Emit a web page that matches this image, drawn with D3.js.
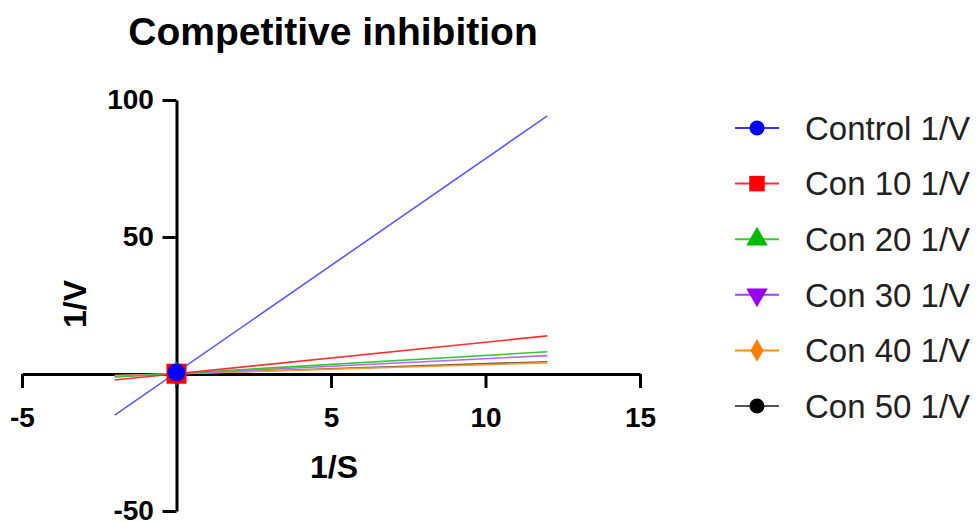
<!DOCTYPE html>
<html>
<head>
<meta charset="utf-8">
<script src="https://cdn.jsdelivr.net/npm/d3@7"></script>
<style>
  body { margin: 0; background: white; font-family: "Liberation Sans", Arial, sans-serif; }
  .axis path, .axis line { stroke: black; stroke-width: 3px; }
  .axis text { font-size: 28px; font-weight: bold; fill: black; font-family: "Liberation Sans", Arial, sans-serif; }
</style>
</head>
<body>
<svg id="chart" width="976" height="522"></svg>
<script>
// series names and fitted lines (1/V = slope * 1/S + intercept)
var names = ["Control 1/V", "Con 10 1/V", "Con 20 1/V", "Con 30 1/V", "Con 40 1/V", "Con 50 1/V"];
var slopes = [7.8, 1.15, 0.66, 0.55, 0.33, 0.37];
var intercepts = [0.6, 0.1, 0.2, 0.1, 0.1, 0.05];
var lineColors = ["#5a5aff", "#ff3030", "#33c833", "#b566ff", "#ff9933", "#7a5a3a"];
var markColors = ["#0000ff", "#ff0000", "#00bb00", "#9900ee", "#ff8000", "#000000"];
var legendLineColors = ["#3333ff", "#ff3333", "#33cc33", "#a640ff", "#ff8c1a", "#555555"];
var symbols = [d3.symbolCircle, d3.symbolSquare, d3.symbolTriangle, "tri-down", d3.symbolDiamond, d3.symbolCircle];
// measured points sit at the origin region
var pointX = [0, 0, 0, 0, 0, 0];
var fitRange = [-2, 12];

var xTicks = [-5, 5, 10, 15];
var yTicks = [-50, 50, 100];

var svg = d3.select("#chart");
var x = d3.scaleLinear().domain([-5, 15]).range([22, 640]);
var y = d3.scaleLinear().domain([-50, 100]).range([511, 100]);

function symPath(s, size) {
  if (s === "tri-down") {
    return d3.symbol().type(d3.symbolTriangle).size(size)();
  }
  return d3.symbol().type(s).size(size)();
}

// title
svg.append("text").attr("x", 333).attr("y", 45).attr("text-anchor", "middle")
  .style("font-size", "39px").style("font-weight", "bold").text("Competitive inhibition");

// axes
var xAxis = svg.append("g").attr("class", "axis").attr("transform", "translate(0," + y(0) + ")")
  .call(d3.axisBottom(x).tickValues([-5, 0, 5, 10, 15]).tickSize(14).tickSizeOuter(0)
    .tickFormat(d => xTicks.indexOf(d) >= 0 ? d : ""));
xAxis.selectAll("text").attr("y", 33);
var yAxis = svg.append("g").attr("class", "axis").attr("transform", "translate(" + x(0) + ",0)")
  .call(d3.axisLeft(y).tickValues([-50, 0, 50, 100]).tickSize(14).tickSizeOuter(0)
    .tickFormat(d => yTicks.indexOf(d) >= 0 ? d : ""));
yAxis.selectAll(".tick").filter(d => d === 0).select("line").remove();
yAxis.selectAll("text").attr("dx", "-0.2em");

svg.append("text").attr("x", 334).attr("y", 478).attr("text-anchor", "middle")
  .style("font-size", "32px").style("font-weight", "bold").text("1/S");
svg.append("text").attr("transform", "translate(86,304) rotate(-90)").attr("text-anchor", "middle")
  .style("font-size", "32px").style("font-weight", "bold").text("1/V");

// fit lines, drawn so Control is on top
var order = d3.range(names.length).reverse();
var lines = svg.append("g");
order.forEach(function (i) {
  lines.append("line")
    .attr("x1", x(fitRange[0])).attr("y1", y(slopes[i] * fitRange[0] + intercepts[i]))
    .attr("x2", x(fitRange[1])).attr("y2", y(slopes[i] * fitRange[1] + intercepts[i]))
    .attr("stroke", lineColors[i]).attr("stroke-width", 1.6);
});

// markers
var marks = svg.append("g");
var markSize = [254, 400, 180, 180, 160, 200];
order.forEach(function (i) {
  var px = pointX[i], py = slopes[i] * px + intercepts[i];
  marks.append("path")
    .attr("d", symPath(symbols[i], markSize[i]))
    .attr("transform", "translate(" + x(px) + "," + y(py) + ")" + (symbols[i] === "tri-down" ? " rotate(180)" : ""))
    .attr("fill", markColors[i]);
});

// legend
var legendSize = [180, 240, 200, 200, 150, 180];
var legend = svg.append("g");
names.forEach(function (n, i) {
  var ly = 128 + i * 55.6;
  legend.append("line").attr("x1", 735).attr("x2", 779).attr("y1", ly).attr("y2", ly)
    .attr("stroke", legendLineColors[i]).attr("stroke-width", 2);
  legend.append("path").attr("d", symPath(symbols[i], legendSize[i]))
    .attr("transform", "translate(757," + ly + ")" + (symbols[i] === "tri-down" ? " rotate(180)" : ""))
    .attr("fill", markColors[i]);
  legend.append("text").attr("x", 805).attr("y", ly).attr("dy", "0.36em")
    .style("font-size", "33px").style("fill", "#222").text(n);
});
</script>
</body>
</html>
